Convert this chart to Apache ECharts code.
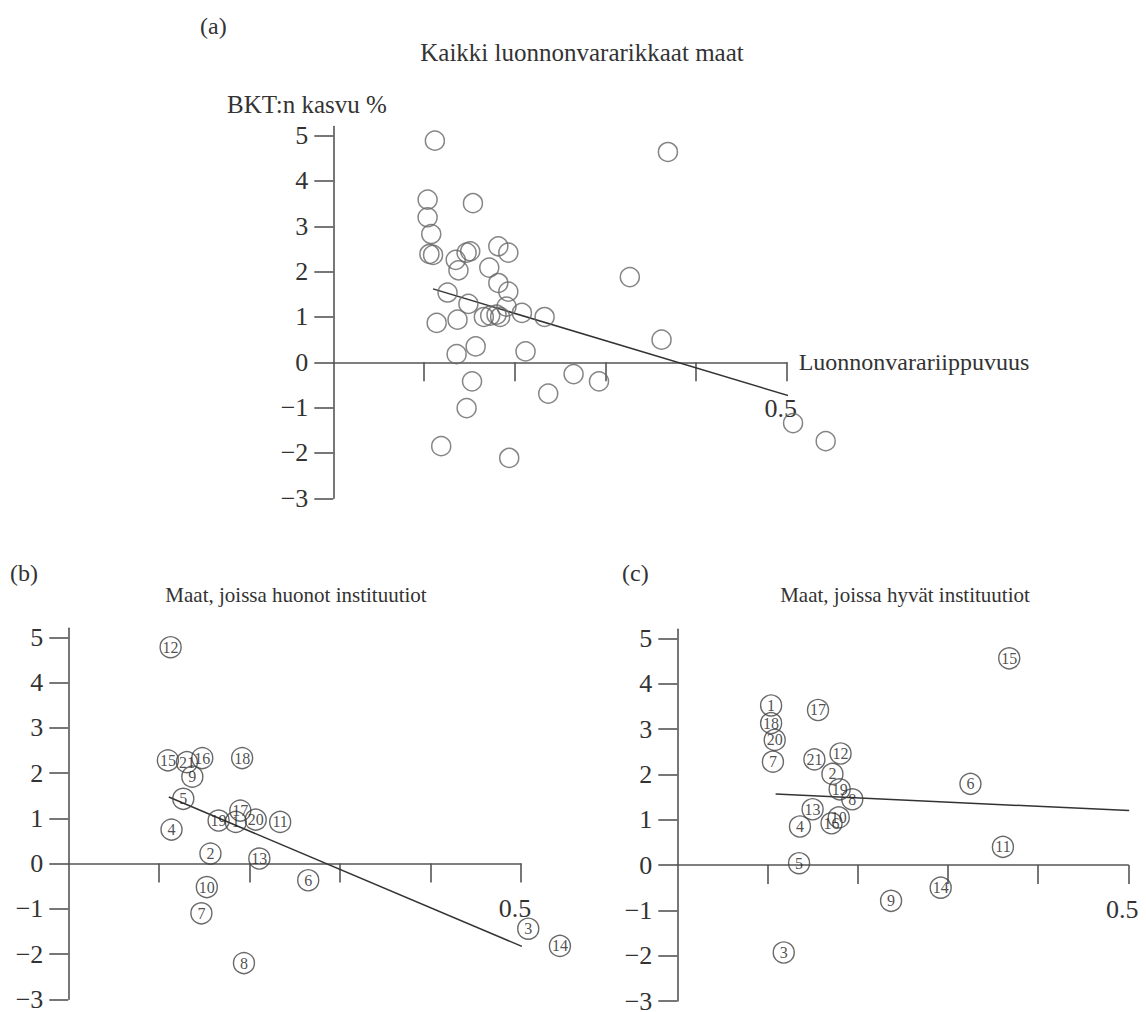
<!DOCTYPE html>
<html>
<head>
<meta charset="utf-8">
<script src="https://cdn.jsdelivr.net/npm/echarts@6/dist/echarts.min.js"></script>
<style>html,body{margin:0;padding:0;background:#fff}#c{width:1146px;height:1012px}</style>
</head>
<body>
<div id="c"></div>
<script>
// ---- Data ----
// Panel (a): all resource-rich countries
const aX = [0.112,0.369,0.104,0.154,0.104,0.108,0.106,0.110,0.147,0.151,0.182,0.193,0.135,0.138,0.172,0.327,0.182,0.193,0.126,0.149,0.191,0.166,0.173,0.180,0.184,0.208,0.233,0.114,0.137,0.362,0.157,0.136,0.212,0.265,0.293,0.153,0.237,0.147,0.507,0.543,0.119,0.194];
const aY = [4.89,4.64,3.59,3.51,3.20,2.83,2.39,2.37,2.42,2.45,2.56,2.42,2.26,2.03,2.09,1.88,1.75,1.56,1.54,1.29,1.23,1.00,1.03,1.05,1.00,1.09,1.00,0.87,0.94,0.50,0.35,0.18,0.24,-0.26,-0.42,-0.42,-0.69,-1.01,-1.34,-1.74,-1.85,-2.11];
const regAX = [0.110, 0.511];
const regAY = [1.62, -0.79];

// Panel (b): poor institutions
const bLabels = ['12','15','21','16','9','18','5','4','19','17','1','20','11','2','13','6','10','7','8','3','14'];
const bX = [0.113,0.110,0.131,0.148,0.137,0.192,0.127,0.114,0.166,0.190,0.185,0.207,0.234,0.157,0.211,0.265,0.153,0.147,0.194,0.508,0.543];
const bY = [4.78,2.28,2.24,2.33,1.92,2.33,1.43,0.75,0.95,1.17,0.92,0.97,0.92,0.22,0.11,-0.37,-0.52,-1.10,-2.20,-1.44,-1.82];
const regBX = [0.111, 0.501];
const regBY = [1.47, -1.83];

// Panel (c): good institutions
const cLabels = ['1','18','20','7','17','21','12','2','19','8','13','4','16','10','5','6','15','11','14','9','3'];
const cX = [0.104,0.104,0.108,0.106,0.156,0.152,0.181,0.172,0.180,0.194,0.150,0.136,0.171,0.179,0.135,0.325,0.368,0.361,0.292,0.237,0.118];
const cY = [3.52,3.13,2.76,2.28,3.42,2.33,2.46,2.01,1.67,1.45,1.23,0.85,0.92,1.05,0.04,1.79,4.56,0.40,-0.50,-0.79,-1.93];
const regCX = [0.109, 0.501];
const regCY = [1.566, 1.20];

// Axis ticks / labels
const yTickValues = [-3,-2,-1,0,1,2,3,4,5];
const xTickValues = [0.1,0.2,0.3,0.4,0.5];
const xLabelValues = [0.5];

const titleA = 'Kaikki luonnonvararikkaat maat';
const titleB = 'Maat, joissa huonot instituutiot';
const titleC = 'Maat, joissa hyvät instituutiot';
const yName = 'BKT:n kasvu %';
const xName = 'Luonnonvarariippuvuus';

// ---- Build ----
const FONT = "'Liberation Serif', 'Times New Roman', serif";
const AX = '#555';
const TXT = '#333';
const pairs = (xs, ys) => xs.map((x, i) => [x, ys[i]]);
const labeled = (xs, ys, ls) => xs.map((x, i) => ({ value: [x, ys[i]], name: ls[i] }));

const grids = [
  { left: 333.3, top: 126.6, width: 453.4, height: 371.7, outerBoundsMode: 'none', containLabel: false },
  { left: 68.3, top: 628.2, width: 452.7, height: 371.1, outerBoundsMode: 'none', containLabel: false },
  { left: 677.3, top: 629.3, width: 451, height: 371.7, outerBoundsMode: 'none', containLabel: false }
];

function xAx(i, labelMargin, name) {
  return {
    type: 'value', gridIndex: i, min: 0, max: 0.5, position: 'bottom',
    axisLine: { show: true, onZero: true, lineStyle: { color: AX, width: 1.6 } },
    axisTick: { show: true, length: 19, customValues: xTickValues, lineStyle: { color: AX, width: 1.6 } },
    axisLabel: { show: true, customValues: xLabelValues, margin: labelMargin, fontSize: 26, fontFamily: FONT, color: TXT,
      formatter: v => String(v), padding: [0, 12, 0, 0] },
    splitLine: { show: false },
    name: name || '', nameLocation: 'end', nameGap: 12,
    nameTextStyle: { fontSize: 24, fontFamily: FONT, color: TXT, align: 'left', verticalAlign: 'middle', padding: [0, 0, 4, 0] }
  };
}
function yAx(i) {
  return {
    type: 'value', gridIndex: i, min: -3, max: 5.2, position: 'left',
    axisLine: { show: true, onZero: false, lineStyle: { color: AX, width: 1.6 } },
    axisTick: { show: true, length: 19, customValues: yTickValues, lineStyle: { color: AX, width: 1.6 } },
    axisLabel: { show: true, customValues: yTickValues, margin: 25, fontSize: 26, fontFamily: FONT, color: TXT,
      formatter: v => (v < 0 ? '\u2212' + (-v) : String(v)) },
    splitLine: { show: false }
  };
}
function regLine(i, xs, ys) {
  return { type: 'line', xAxisIndex: i, yAxisIndex: i, data: pairs(xs, ys), symbol: 'none', clip: false, silent: true,
    lineStyle: { color: '#333', width: 1.5 }, z: 3 };
}
function numScatter(i, xs, ys, ls) {
  return { type: 'scatter', xAxisIndex: i, yAxisIndex: i, data: labeled(xs, ys, ls), symbol: 'circle', symbolSize: 21,
    clip: false, silent: true,
    itemStyle: { color: 'rgba(255,255,255,0)', borderColor: '#444', borderWidth: 1.4 },
    label: { show: true, position: 'inside', formatter: p => p.name, fontSize: 16, fontFamily: FONT, color: '#222',
      textBorderWidth: 0, textBorderColor: 'transparent', textShadowBlur: 0 },
    z: 4 };
}

const option = {
  animation: false,
  backgroundColor: '#fff',
  grid: grids,
  xAxis: [xAx(0, -103, xName), xAx(1, -104), xAx(2, -105)],
  yAxis: [yAx(0), yAx(1), yAx(2)],
  series: [
    { type: 'scatter', xAxisIndex: 0, yAxisIndex: 0, data: pairs(aX, aY), symbol: 'circle', symbolSize: 19,
      clip: false, silent: true, itemStyle: { color: 'rgba(255,255,255,0)', borderColor: '#666', borderWidth: 1.5 }, z: 4 },
    regLine(0, regAX, regAY),
    numScatter(1, bX, bY, bLabels),
    regLine(1, regBX, regBY),
    numScatter(2, cX, cY, cLabels),
    regLine(2, regCX, regCY)
  ],
  graphic: [
    { type: 'text', x: 200, y: 26, style: { text: '(a)', fontSize: 24, fontFamily: FONT, fill: TXT, align: 'left', verticalAlign: 'middle' } },
    { type: 'text', x: 582, y: 52, style: { text: titleA, fontSize: 25, fontFamily: FONT, fill: TXT, align: 'center', verticalAlign: 'middle' } },
    { type: 'text', x: 227, y: 104, style: { text: yName, fontSize: 25, fontFamily: FONT, fill: TXT, align: 'left', verticalAlign: 'middle' } },
    { type: 'text', x: 10, y: 573, style: { text: '(b)', fontSize: 24, fontFamily: FONT, fill: TXT, align: 'left', verticalAlign: 'middle' } },
    { type: 'text', x: 296, y: 595, style: { text: titleB, fontSize: 21, fontFamily: FONT, fill: TXT, align: 'center', verticalAlign: 'middle' } },
    { type: 'text', x: 622, y: 573, style: { text: '(c)', fontSize: 24, fontFamily: FONT, fill: TXT, align: 'left', verticalAlign: 'middle' } },
    { type: 'text', x: 905, y: 595, style: { text: titleC, fontSize: 21, fontFamily: FONT, fill: TXT, align: 'center', verticalAlign: 'middle' } }
  ]
};

const chart = echarts.init(document.getElementById('c'), null, { renderer: 'svg', width: 1146, height: 1012 });
chart.setOption(option);
</script>
</body>
</html>
